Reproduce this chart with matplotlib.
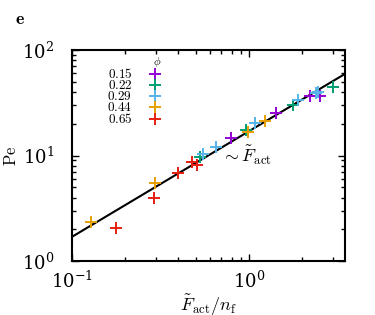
import numpy as np
import matplotlib
matplotlib.use('Agg')
import matplotlib.pyplot as plt

plt.rcParams['mathtext.fontset'] = 'cm'
plt.rcParams['font.family'] = 'serif'
plt.rcParams['font.serif'] = ['DejaVu Serif']

phi_labels = ['0.15', '0.22', '0.29', '0.44', '0.65']
colors = ['#9400d3', '#009e73', '#56b4e9', '#e69f00', '#e51e10']

# F_act / n_f  and  Pe  for each phi
x_015 = [0.79, 1.42, 2.21, 2.53]
y_015 = [14.7, 25.3, 37.0, 36.5]
x_022 = [0.53, 0.97, 1.78, 3.00]
y_022 = [9.6, 17.4, 30.5, 44.9]
x_029 = [0.55, 0.65, 1.08, 1.90, 2.39, 2.46]
y_029 = [10.3, 12.1, 20.2, 33.5, 39.5, 40.3]
x_044 = [0.128, 0.293, 0.99, 1.23]
y_044 = [2.33, 5.45, 16.8, 21.4]
x_065 = [0.177, 0.29, 0.40, 0.48, 0.51]
y_065 = [2.07, 3.93, 6.78, 8.62, 8.13]

fit_x = [0.1, 3.5]
fit_coef = 17.0

fig = plt.figure(figsize=(3.75, 3.15), dpi=100)
ax = fig.add_axes([0.192, 0.171, 0.728, 0.670])

xs = [x_015, x_022, x_029, x_044, x_065]
ys = [y_015, y_022, y_029, y_044, y_065]
for xv, yv, c, lab in zip(xs, ys, colors, phi_labels):
    ax.plot(xv, yv, '+', color=c, markersize=8, mew=1.4, label='$' + lab + '$')

fx = np.array(fit_x)
ax.plot(fx, fit_coef * fx, 'k-', lw=1.5, zorder=1)

ax.set_xscale('log')
ax.set_yscale('log')
ax.set_xlim(0.1, 3.5)
ax.set_ylim(1, 100)

ax.tick_params(which='both', direction='in', top=True, right=True, labelsize=13)
ax.tick_params(axis='x', which='major', pad=7)
ax.tick_params(axis='y', which='major', pad=13)
ax.tick_params(which='major', length=5, width=1)
ax.tick_params(which='minor', length=3, width=1)
for s in ax.spines.values():
    s.set_linewidth(1.5)

ax.set_xlabel(r'$\tilde{F}_{\rm act}/n_{\rm f}$', fontsize=13)
ax.set_ylabel(r'$\mathrm{Pe}$', fontsize=12)
ax.xaxis.set_label_coords(0.5, -0.15)
ax.yaxis.set_label_coords(-0.19, 0.5)

ax.text(0.70, 10, r'$\sim\tilde{F}_{\rm act}$', fontsize=13, va='center')
fig.text(0.04, 0.925, r'$\mathbf{e}$', fontsize=13)

leg = ax.legend(title=r'$\phi$', loc='upper left', bbox_to_anchor=(0.09, 1.025),
                frameon=False, markerfirst=False, fontsize=9.5, title_fontsize=8,
                handlelength=1.0, handletextpad=1.2, labelspacing=-0.15, borderpad=0.3)
leg._legend_box.align = 'right'

fig.savefig('out.png', dpi=100)
